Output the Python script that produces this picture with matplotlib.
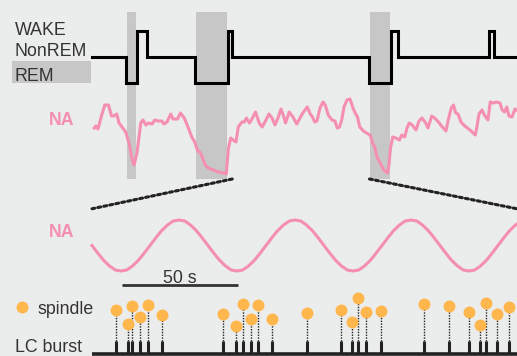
import matplotlib
matplotlib.use('Agg')
import matplotlib.pyplot as plt
from matplotlib.patches import ConnectionPatch, Rectangle
from matplotlib.lines import Line2D
import numpy as np

plt.rcParams['font.family'] = ['Liberation Sans', 'DejaVu Sans']

# ---------------- data ----------------
# hypnogram (time in s, long recording)
hyp_times = [0, 45, 60, 73, 137, 181, 187, 369, 399, 408, 529, 536, 567]
hyp_states = ['NonREM', 'REM', 'WAKE', 'NonREM', 'REM', 'WAKE', 'NonREM',
              'REM', 'WAKE', 'NonREM', 'WAKE', 'NonREM']
state_names = ['WAKE', 'NonREM', 'REM']
state_levels = {'REM': 0, 'NonREM': 1, 'WAKE': 2}

# NA trace over the long recording
na_t = [3, 5, 8, 13, 17, 22, 26, 29, 33, 36,
        41, 45, 50, 53, 56, 60, 63, 65, 68, 72,
        75, 80, 84, 88, 93, 96, 100, 105, 108, 114,
        118, 123, 128, 133, 137, 141, 144, 147, 151, 155,
        162, 168, 175, 179, 182, 185, 188, 192, 195, 200,
        203, 206, 210, 214, 218, 223, 227, 232, 236, 240,
        244, 248, 252, 255, 258, 263, 268, 273, 281, 284,
        287, 291, 294, 297, 300, 304, 308, 311, 315, 320,
        324, 327, 330, 333, 336, 340, 344, 348, 351, 354,
        357, 362, 366, 371, 374, 377, 380, 385, 389, 394,
        396, 398, 401, 405, 410, 413, 417, 420, 423, 427,
        432, 436, 440, 445, 448, 453, 457, 462, 466, 472,
        475, 479, 482, 485, 488, 492, 497, 504, 511, 513,
        516, 520, 524, 528, 531, 535, 540, 544, 547, 550,
        553, 556, 560, 564, 566]
na_v = [52, 54, 51, 65, 75, 75, 64, 64, 66, 57,
        52, 48, 35, 22, 15, 27, 45, 57, 60, 55,
        57, 56, 60, 59, 59, 56, 58, 66, 61, 61,
        67, 62, 53, 43, 38, 29, 28, 23, 15, 12,
        10, 8, 7, 6, 32, 42, 40, 38, 53, 58,
        58, 62, 57, 62, 68, 57, 53, 60, 66, 62,
        55, 62, 71, 65, 57, 68, 63, 56, 67, 70,
        73, 66, 63, 58, 59, 72, 78, 75, 65, 60,
        59, 52, 53, 60, 73, 80, 81, 72, 67, 63,
        53, 49, 47, 45, 37, 33, 23, 16, 10, 7,
        15, 32, 43, 42, 40, 45, 43, 52, 57, 55,
        50, 59, 62, 57, 52, 64, 62, 58, 54, 49,
        60, 72, 75, 67, 66, 58, 54, 50, 45, 52,
        66, 70, 64, 60, 78, 77, 78, 77, 70, 68,
        73, 64, 63, 71, 70]

zoom_window = [187, 370]          # s, region expanded below

# slow NA oscillation in the expanded window (sampled every 2.5 s)
slow_t = np.arange(0, 187.5, 2.5)
slow_na = [0.50, 0.35, 0.21, 0.10, 0.02, 0.00, 0.02, 0.10, 0.21, 0.35,
           0.50, 0.65, 0.79, 0.90, 0.98, 1.00, 0.98, 0.90, 0.79, 0.65,
           0.50, 0.35, 0.21, 0.10, 0.02, 0.00, 0.02, 0.10, 0.21, 0.35,
           0.50, 0.65, 0.79, 0.90, 0.98, 1.00, 0.98, 0.90, 0.79, 0.65,
           0.50, 0.35, 0.21, 0.10, 0.02, 0.00, 0.02, 0.10, 0.21, 0.35,
           0.50, 0.65, 0.79, 0.90, 0.98, 1.00, 0.98, 0.90, 0.79, 0.65,
           0.50, 0.35, 0.21, 0.10, 0.02, 0.00, 0.02, 0.10, 0.21, 0.35,
           0.50, 0.65, 0.79, 0.90, 0.98]
window_len = 183.2
scalebar_start = 13
scalebar_len = 50
scalebar_label = '50 s'

# LC bursts and coupled spindles (time in s, spindle amplitude a.u.)
lc_t = [10.5, 15.4, 17.4, 20.8, 24.0, 30.2, 56.3, 61.9, 65.2, 68.4,
        71.6, 77.6, 92.7, 107.5, 112.1, 114.8, 118.1, 124.4, 143.0, 153.8,
        162.6, 167.2, 169.7, 174.4, 179.6]
spindle_amp = [44, 30, 48, 37, 49, 39, 40, 28, 50, 35,
               49, 35, 41, 44, 32, 56, 42, 43, 50, 48,
               42, 29, 51, 40, 47]
lc_height = 13

# ---------------- style ----------------
W, H = 517, 356
BG = '#ebecec'
SHADE = '#c6c7c6'
PINK = '#f58fb2'
ORANGE = '#ffb74d'
TXT = '#333333'
FS = 12.8


def px_rect(x0, y0, x1, y1):
    return [x0 / W, 1 - y1 / H, (x1 - x0) / W, (y1 - y0) / H]


def fx(x):
    return x / W


def fy(y):
    return 1 - y / H


fig = plt.figure(figsize=(W / 100, H / 100), dpi=100, facecolor=BG)

# shading of REM periods
shade_ax = fig.add_axes(px_rect(92, 12, 517, 179))
shade_ax.set_xlim(0, 566.7)
shade_ax.set_ylim(0, 1)
shade_ax.axis('off')
for a, b, s in zip(hyp_times[:-1], hyp_times[1:], hyp_states):
    if s == 'REM':
        shade_ax.axvspan(a + 1.3, b - 1.0, color=SHADE, lw=0)

# hypnogram
hyp_ax = fig.add_axes(px_rect(92, 18, 517, 96))
hyp_ax.set_xlim(0, 566.7)
hyp_ax.set_ylim(-0.5, 2.5)
hyp_ax.axis('off')
levels = [state_levels[s] for s in hyp_states]
hyp_ax.step(hyp_times, levels + [levels[-1]], where='post', color='black',
            lw=2.2, clip_on=False, solid_joinstyle='miter')

# NA trace
na_ax = fig.add_axes(px_rect(92, 95, 517, 180))
na_ax.set_xlim(0, 566.7)
na_ax.set_ylim(0, 85)
na_ax.axis('off')
na_ax.plot(na_t, na_v, color=PINK, lw=2.2, clip_on=False,
           solid_joinstyle='round')

# slow oscillation
sine_ax = fig.add_axes(px_rect(92, 220, 517, 271))
sine_ax.set_xlim(0, window_len)
sine_ax.set_ylim(0, 1)
sine_ax.axis('off')
sine_ax.plot(slow_t, slow_na, color=PINK, lw=2.2, clip_on=False)
sine_ax.plot([scalebar_start, scalebar_start + scalebar_len], [-0.275, -0.275],
             color=TXT, lw=2.0, clip_on=False, solid_capstyle='butt')
sine_ax.text(scalebar_start + scalebar_len / 2, -0.235, scalebar_label,
             ha='center', va='baseline', fontsize=FS, color=TXT)

# zoom connectors
for xa, xb in zip(zoom_window, [0, window_len]):
    con = ConnectionPatch(xyA=(xa, 0), coordsA=shade_ax.transData,
                          xyB=(xb, 1.22), coordsB=sine_ax.transData,
                          color='#222222', lw=2.2, linestyle=(0, (1, 1)))
    fig.add_artist(con)

# LC bursts / spindles
ev_ax = fig.add_axes(px_rect(92, 288, 517, 354))
ev_ax.set_xlim(0, window_len)
ev_ax.set_ylim(0, 66)
ev_ax.axis('off')
ev_ax.plot([0, window_len], [0, 0], color='#222222', lw=2.6, clip_on=False,
           solid_capstyle='butt')
ev_ax.vlines(lc_t, 0, lc_height, color='#222222', lw=2.2, clip_on=False)
ev_ax.vlines(lc_t, lc_height, spindle_amp, color='#222222', lw=1.0,
             linestyles=[(0, (1, 1))], clip_on=False)
ev_ax.plot(lc_t, spindle_amp, 'o', ms=8.6, color=ORANGE, mec='none',
           clip_on=False, zorder=5)

# labels
fig.add_artist(Rectangle((fx(12), fy(83.3)), fx(90.7) - fx(12),
                         fy(61) - fy(83.3), transform=fig.transFigure,
                         color=SHADE, lw=0))
fig.text(fx(15), fy(35), 'WAKE', fontsize=FS, color=TXT, va='baseline')
fig.text(fx(15), fy(56), 'NonREM', fontsize=FS, color=TXT, va='baseline')
fig.text(fx(15), fy(81), 'REM', fontsize=FS, color=TXT, va='baseline')
fig.text(fx(49), fy(125), 'NA', fontsize=FS, color=PINK, weight='bold',
         va='baseline')
fig.text(fx(49), fy(236.7), 'NA', fontsize=FS, color=PINK, weight='bold',
         va='baseline')
fig.add_artist(Line2D([fx(22)], [fy(307)], marker='o', ms=8.6, color=ORANGE,
                      mec='none', transform=fig.transFigure))
fig.text(fx(37), fy(314), 'spindle', fontsize=FS, color=TXT, va='baseline')
fig.text(fx(15), fy(352), 'LC burst', fontsize=FS, color=TXT, va='baseline')

fig.savefig('out.png', dpi=100, facecolor=BG)
